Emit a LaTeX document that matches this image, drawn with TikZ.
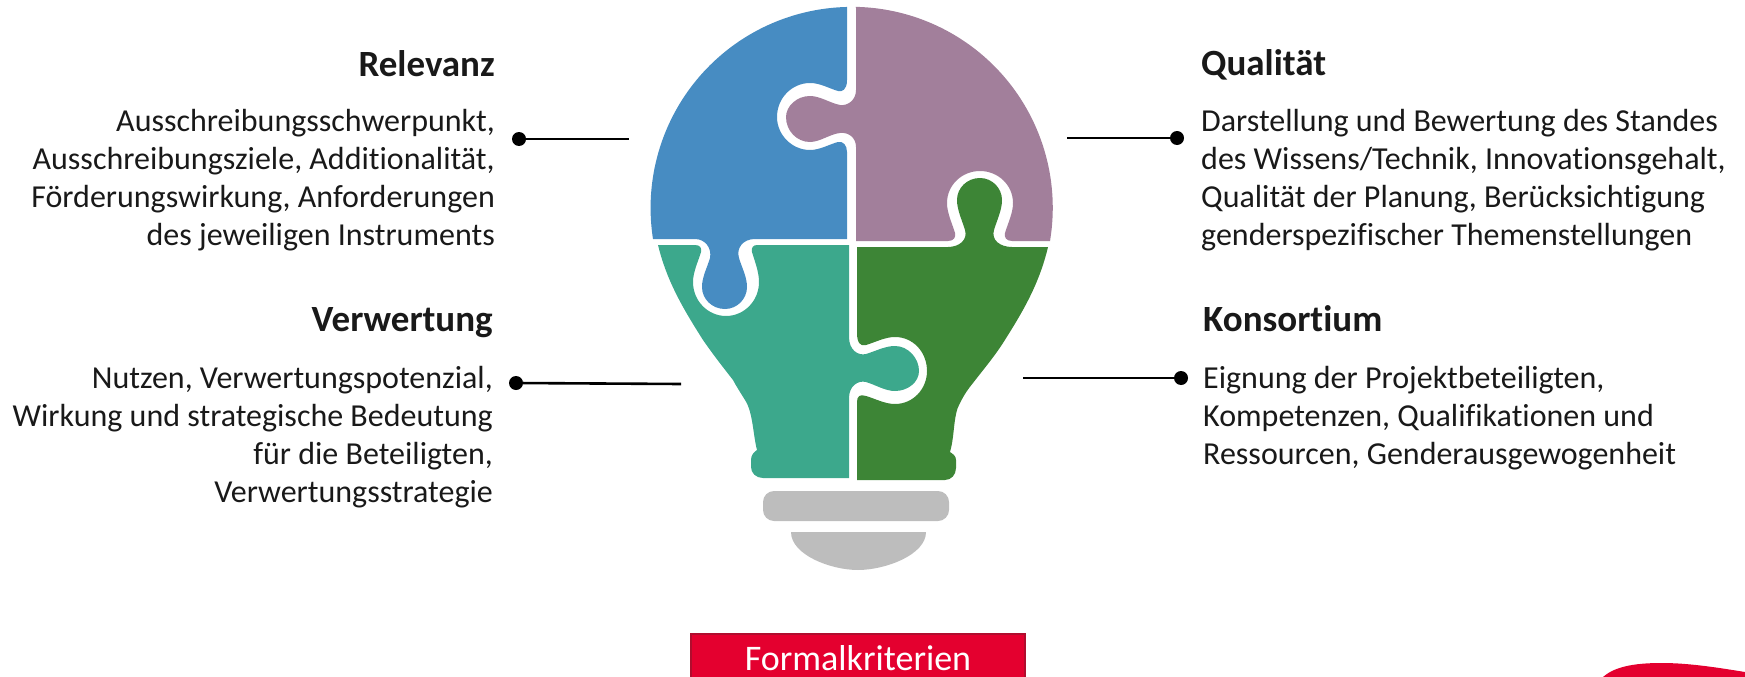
\documentclass[tikz,border=0pt]{standalone}
\usepackage{fontspec}
\setmainfont[Ligatures=CommonOff]{Carlito}
\definecolor{bulbblue}{HTML}{478CC2}
\definecolor{bulbpurple}{HTML}{A27F9B}
\definecolor{bulbteal}{HTML}{3CA88C}
\definecolor{bulbgreen}{HTML}{3D8536}
\definecolor{bulbgray}{HTML}{BDBDBD}
\definecolor{formalred}{HTML}{E4002F}
\definecolor{formaledge}{HTML}{B00D2E}
\tikzset{
  titletext/.style={inner sep=0pt, font=\fontsize{37}{38}\selectfont\bfseries, text=black!90},
  bodytext/.style={inner sep=0pt, font=\fontsize{32}{38}\selectfont, text=black!90},
  dotmark/.style={circle, fill=black, inner sep=0pt, minimum size=14pt},
  leader/.style={line width=2.6pt, black},
}
\begin{document}
\begin{tikzpicture}[x=1pt,y=-1pt]
  \useasboundingbox (0,0) rectangle (1745,677);

  % Draw the blue piece
  \fill[bulbblue] (847,7) -- (847,80) .. controls (847,90) and (842,92) .. (838,91)
    .. controls (828,88) and (820,83) .. (810,83)
    .. controls (792,83) and (777,98) .. (777,117)
    .. controls (777,135) and (792,150) .. (810,150)
    .. controls (820,150) and (830,144) .. (838,142)
    .. controls (843,141) and (847,145) .. (847,152)
    -- (847,239) -- (755,239)
    .. controls (743,239) and (736,248) .. (739,258)
    .. controls (742,268) and (747,277) .. (747,287)
    .. controls (747,299) and (737,309) .. (725,309)
    .. controls (712,309) and (702,299) .. (702,287)
    .. controls (702,277) and (707,268) .. (710,258)
    .. controls (712,248) and (705,239) .. (695,239)
    -- (653,239) arc[start angle=171.1, end angle=268.6, radius=201] -- cycle;

  % Draw the purple piece
  \fill[bulbpurple] (856,8) -- (856,90)
    .. controls (856,100) and (848,106) .. (840,105)
    .. controls (830,103) and (820,96) .. (810,96)
    .. controls (797,96) and (786,106) .. (786,117)
    .. controls (786,131) and (797,142) .. (810,142)
    .. controls (820,142) and (830,134) .. (840,133)
    .. controls (849,132) and (856,138) .. (856,147)
    -- (856,241) -- (948,241)
    .. controls (954,241) and (956,237) .. (955,233)
    .. controls (952,223) and (947,213) .. (947,203)
    .. controls (947,185) and (962,171) .. (980,171)
    .. controls (998,171) and (1013,185) .. (1013,203)
    .. controls (1013,213) and (1008,223) .. (1005,233)
    .. controls (1004,237) and (1006,241) .. (1012,241)
    -- (1050,241) arc[start angle=9.5, end angle=-88.9, radius=201] -- cycle;

  % Draw the teal piece
  \fill[bulbteal] (658,245) -- (695,245)
    .. controls (700,245) and (702,248) .. (701,252)
    .. controls (698,262) and (693,272) .. (693,282)
    .. controls (693,301) and (708,316) .. (726,316)
    .. controls (744,316) and (759,301) .. (759,282)
    .. controls (759,272) and (755,262) .. (752,252)
    .. controls (751,248) and (753,245) .. (757,245)
    -- (849,245) -- (849,337)
    .. controls (849,350) and (858,356) .. (866,354)
    .. controls (876,351) and (885,346) .. (895,346)
    .. controls (908,346) and (919,358) .. (919,371)
    .. controls (919,382) and (908,391) .. (895,391)
    .. controls (885,391) and (876,385) .. (866,382)
    .. controls (858,380) and (849,386) .. (849,398)
    -- (849,478) -- (763,478)
    .. controls (756,478) and (751,473) .. (751,467) -- (751,460)
    .. controls (751,455) and (754,452) .. (757,450)
    .. controls (753,435) and (753,412) .. (745,400)
    .. controls (740,392) and (735,384) .. (733,380)
    .. controls (722,366) and (712,353) .. (703,340)
    .. controls (684,310) and (667,282) .. (658,245) -- cycle;

  % Draw the green piece
  \fill[bulbgreen] (857,247) -- (857,333)
    .. controls (857,342) and (860,347) .. (866,345)
    .. controls (876,342) and (885,337) .. (895,337)
    .. controls (913,337) and (927,352) .. (927,371)
    .. controls (927,389) and (913,404) .. (895,404)
    .. controls (885,404) and (876,399) .. (866,396)
    .. controls (860,394) and (857,396) .. (857,402)
    -- (857,480) -- (945,480)
    .. controls (951,480) and (956,475) .. (956,468) -- (956,460)
    .. controls (956,456) and (953,454) .. (950,452)
    .. controls (955,435) and (953,415) .. (960,403)
    .. controls (964,395) and (968,389) .. (973,383)
    .. controls (983,370) and (994,357) .. (1003,343)
    .. controls (1022,313) and (1039,285) .. (1048,247)
    -- (1012,247)
    .. controls (1000,247) and (991,240) .. (994,230)
    .. controls (997,220) and (1002,210) .. (1002,200)
    .. controls (1002,188) and (992,178) .. (980,178)
    .. controls (967,178) and (957,188) .. (957,200)
    .. controls (957,210) and (962,220) .. (965,230)
    .. controls (968,240) and (959,247) .. (948,247) -- cycle;

  % Draw the base of the bulb
  \fill[bulbgray, rounded corners=11pt] (763,491) rectangle (949,521);
  \fill[bulbgray] (791,532) -- (926,532) .. controls (926,555) and (885,570) .. (858,570)
    .. controls (831,570) and (791,555) .. (791,532) -- cycle;

  % Relevanz
  \node[titletext, anchor=east] (relevanztitle) at (495,64) {Relevanz};
  \node[bodytext, anchor=north east, align=right] (relevanztext) at (495,109)
    {Ausschreibungsschwerpunkt,\\Ausschreibungsziele, Additionalität,\\Förderungswirkung, Anforderungen\\des jeweiligen Instruments};
  \node[dotmark] (relevanzdot) at (519,139) {};
  \coordinate (relevanzend) at (629,139);
  \draw[leader] (relevanzdot) -- (relevanzend);

  % Verwertung
  \node[titletext, anchor=east] (verwertungtitle) at (493,323) {Verwertung};
  \node[bodytext, anchor=north east, align=right] (verwertungtext) at (493,366)
    {Nutzen, Verwertungspotenzial,\\Wirkung und strategische Bedeutung\\für die Beteiligten,\\Verwertungsstrategie};
  \node[dotmark] (verwertungdot) at (516,383) {};
  \coordinate (verwertungend) at (681,384);
  \draw[leader] (verwertungdot) -- (verwertungend);

  % Qualitaet
  \node[titletext, anchor=west] (qualitaettitle) at (1201,65) {Qualität};
  \node[bodytext, anchor=north west, align=left] (qualitaettext) at (1201,109)
    {Darstellung und Bewertung des Standes\\des Wissens/Technik, Innovationsgehalt,\\Qualität der Planung, Berücksichtigung\\genderspezifischer Themenstellungen};
  \node[dotmark] (qualitaetdot) at (1177,138) {};
  \coordinate (qualitaetend) at (1067,138);
  \draw[leader] (qualitaetdot) -- (qualitaetend);

  % Konsortium
  \node[titletext, anchor=west] (konsortiumtitle) at (1203,319) {Konsortium};
  \node[bodytext, anchor=north west, align=left] (konsortiumtext) at (1203,366)
    {Eignung der Projektbeteiligten,\\Kompetenzen, Qualifikationen und\\Ressourcen, Genderausgewogenheit};
  \node[dotmark] (konsortiumdot) at (1181,378) {};
  \coordinate (konsortiumend) at (1023,378);
  \draw[leader] (konsortiumdot) -- (konsortiumend);

  % Formalkriterien and the corner shape
  \node[draw=formaledge, line width=1.5pt, fill=formalred, text=white, anchor=north,
    minimum width=334pt, minimum height=48pt, inner sep=0pt, text depth=0pt,
    font=\fontsize{36}{38}\selectfont] (formalbox) at (858,633) {Formalkriterien};
  \fill[formalred] (1602,678) .. controls (1615,665) and (1640,663) .. (1662,663)
    .. controls (1690,663) and (1720,668) .. (1745,672) -- (1745,678) -- cycle;
\end{tikzpicture}
\end{document}
